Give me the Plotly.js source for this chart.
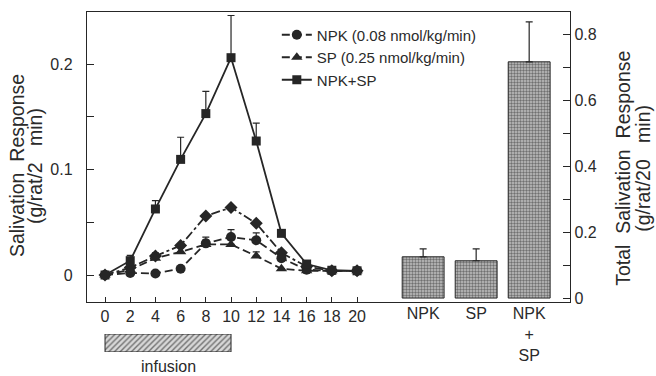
<!DOCTYPE html>
<html>
<head>
<meta charset="utf-8">
<script src="https://cdn.plot.ly/plotly-3.0.1.min.js"></script>
<style>html,body{margin:0;padding:0;background:#fff;}#chart{width:656px;height:376px;}</style>
</head>
<body>
<div id="chart"></div>
<script>
// Time course (min) and responses (g/rat/2 min)
const time = [0, 2, 4, 6, 8, 10, 12, 14, 16, 18, 20];
const npk = [0, 0.002, 0.0015, 0.006, 0.030, 0.036, 0.033, 0.016, 0.005, 0.004, 0.004];
const npkErr = [0, 0, 0, 0, 0.006, 0.007, 0.007, 0, 0, 0, 0];
const sp = [0, 0.005, 0.016, 0.022, 0.029, 0.029, 0.018, 0.006, 0.004, 0.004, 0.004];
const spErr = [0, 0, 0.005, 0.004, 0.004, 0.005, 0.004, 0, 0, 0, 0];
const combo = [0, 0.0136, 0.0626, 0.1096, 0.153, 0.206, 0.127, 0.0395, 0.0104, 0.0045, 0.004];
const comboErr = [0, 0.005, 0.008, 0.021, 0.021, 0.040, 0.017, 0, 0, 0, 0];
const additive = [0, 0.007, 0.018, 0.028, 0.056, 0.064, 0.049, 0.021, 0.008, 0.004, 0.004];

// Totals (g/rat/20 min)
const barCats = ['NPK', 'SP', 'NPK<br>+<br>SP'];
const barTotals = [0.125, 0.113, 0.716];
const barErr = [0.024, 0.036, 0.121];

// Infusion period (min)
const infusionStart = 0;
const infusionEnd = 10;

const timeTicks = [0, 2, 4, 6, 8, 10, 12, 14, 16, 18, 20];
const leftTicks = [0, 0.05, 0.1, 0.15, 0.2];
const leftTickText = ['0', '', '0.1', '', '0.2'];
const rightTicks = [0, 0.1, 0.2, 0.3, 0.4, 0.5, 0.6, 0.7, 0.8];
const rightTickText = ['0', '', '0.2', '', '0.4', '', '0.6', '', '0.8'];

const ink = '#262626';
const txt = '#2a2a2a';
const errStyle = (arr) => ({type: 'data', array: arr, arrayminus: arr.map(() => 0), symmetric: false, color: ink, thickness: 1.2, width: 3.5});

const traces = [
  {x: time, y: additive, type: 'scatter', mode: 'lines+markers', showlegend: false,
   line: {color: ink, width: 1.8, dash: 'dashdot'}, marker: {symbol: 'diamond', size: 10, color: ink}},
  {x: time, y: npk, type: 'scatter', mode: 'lines+markers', name: 'NPK (0.08 nmol/kg/min)',
   error_y: errStyle(npkErr),
   line: {color: ink, width: 1.8, dash: '8px,4px'}, marker: {symbol: 'circle', size: 10, color: ink}},
  {x: time, y: sp, type: 'scatter', mode: 'lines+markers', name: 'SP (0.25 nmol/kg/min)',
   error_y: errStyle(spErr),
   line: {color: ink, width: 1.8, dash: '8px,4px'}, marker: {symbol: 'triangle-up', size: 10, color: ink}},
  {x: time, y: combo, type: 'scatter', mode: 'lines+markers', name: 'NPK+SP',
   error_y: errStyle(comboErr),
   line: {color: ink, width: 1.8}, marker: {symbol: 'square', size: 9, color: ink}},
  {x: barCats, y: barTotals, type: 'bar', xaxis: 'x2', yaxis: 'y2', showlegend: false, width: 0.79,
   error_y: errStyle(barErr),
   marker: {color: '#b0b0b0', line: {color: ink, width: 1},
            pattern: {shape: '.', fgcolor: '#707070', bgcolor: '#c2c2c2', size: 3, solidity: 0.5}}},
  {x: [infusionEnd - infusionStart], base: [infusionStart], y: ['infusion'], type: 'bar', orientation: 'h',
   xaxis: 'x', yaxis: 'y3', showlegend: false, width: 1, hoverinfo: 'skip',
   marker: {color: '#cfcfcf', line: {color: ink, width: 1},
            pattern: {shape: '/', fgcolor: '#707070', bgcolor: '#d8d8d8', size: 4, solidity: 0.35}}}
];

const fam = '"Liberation Sans", Arial, Helvetica, sans-serif';
const gap = ' \u00a0';
const titleFont = {family: fam, size: 19.5, color: txt};

const layout = {
  width: 656, height: 376,
  margin: {l: 87, r: 86, t: 12, b: 4},
  paper_bgcolor: '#fff', plot_bgcolor: '#fff',
  font: {family: fam, size: 16, color: txt},
  showlegend: true,
  legend: {x: 0.393, y: 0.982, xanchor: 'left', yanchor: 'top', bgcolor: 'rgba(0,0,0,0)',
           font: {family: fam, size: 15, color: txt}, tracegroupgap: 0, itemwidth: 30},
  bargap: 0,
  xaxis: {range: [-1.43, 36.9], tickvals: timeTicks, ticktext: timeTicks.map(String),
          ticks: 'inside', ticklen: 5, tickcolor: ink, showline: true, linecolor: ink, linewidth: 1.2,
          mirror: true, showgrid: false, zeroline: false, anchor: 'y', tickfont: {size: 16}},
  xaxis2: {type: 'category', range: [-6.34, 2.77], overlaying: 'x', anchor: 'y', side: 'bottom',
           ticks: '', showline: false, showgrid: false, zeroline: false, tickfont: {size: 16}},
  yaxis: {domain: [0.1944, 1], range: [-0.0256, 0.2493], tickvals: leftTicks, ticktext: leftTickText,
          ticks: 'inside', ticklen: 7, tickcolor: ink, showline: true, linecolor: ink, linewidth: 1.2,
          showgrid: false, zeroline: false, tickfont: {size: 16}, ticklabelstandoff: 10},
  yaxis2: {overlaying: 'y', side: 'right', anchor: 'x', range: [-0.012, 0.867], tickvals: rightTicks, ticktext: rightTickText,
           ticks: 'inside', ticklen: 7, tickcolor: ink, showline: true, linecolor: ink, linewidth: 1.2,
           showgrid: false, zeroline: false, tickfont: {size: 16}},
  yaxis3: {domain: [0.0556, 0.1056], range: [-0.5, 0.5], visible: false, type: 'category', anchor: 'x'},
  annotations: [
    {text: 'infusion', x: (infusionStart + infusionEnd) / 2, xref: 'x', y: 0.014, yref: 'paper',
     yanchor: 'middle', xanchor: 'center', showarrow: false, font: {size: 16, color: txt}},
    {text: 'Salivation' + gap + 'Response', textangle: -90, x: -0.1449, y: 0.572, xref: 'paper', yref: 'paper',
     xanchor: 'center', yanchor: 'middle', showarrow: false, font: titleFont},
    {text: '(g/rat/2' + gap + '\u00a0min)', textangle: -90, x: -0.1077, y: 0.572, xref: 'paper', yref: 'paper',
     xanchor: 'center', yanchor: 'middle', showarrow: false, font: titleFont},
    {text: 'Total' + gap + 'Salivation' + gap + 'Response', textangle: -90, x: 1.1097, y: 0.567, xref: 'paper', yref: 'paper',
     xanchor: 'center', yanchor: 'middle', showarrow: false, font: titleFont},
    {text: '(g/rat/20' + gap + '\u00a0min)', textangle: -90, x: 1.151, y: 0.567, xref: 'paper', yref: 'paper',
     xanchor: 'center', yanchor: 'middle', showarrow: false, font: titleFont}
  ]
};

Plotly.newPlot('chart', traces, layout, {displayModeBar: false, staticPlot: true});
</script>
</body>
</html>
